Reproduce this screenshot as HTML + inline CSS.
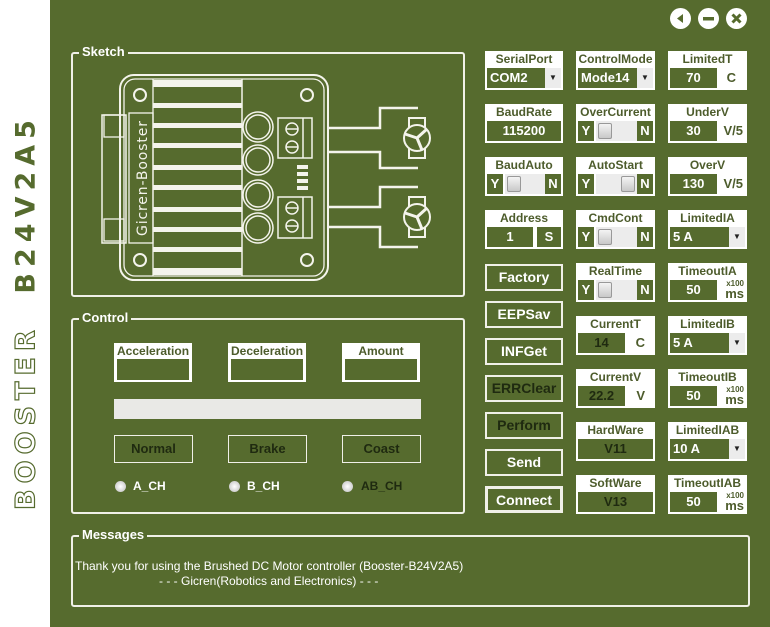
<!DOCTYPE html>
<html><head><meta charset="utf-8"><style>
*{margin:0;padding:0;box-sizing:border-box}
body{width:770px;height:627px;background:#566b2e;position:relative;overflow:hidden;font-family:"Liberation Sans",sans-serif;font-weight:bold}
.strip{position:absolute;left:0;top:0;width:50px;height:627px;background:#fff}
.gb{position:absolute;border:2px solid #f0f0e8;border-radius:3px}
.gb span{position:absolute;top:-10px;left:6px;background:#566b2e;color:#fff;font-size:13px;padding:0 3px;line-height:16px}
.w{position:absolute;background:#fff;width:79px;height:39px}
.t{position:absolute;left:0;top:1px;width:100%;text-align:center;font-size:12px;color:#4d5c2c;line-height:14px}
.f{position:absolute;top:17px;height:20px;background:#566b2e;color:#fff;font-size:13px;line-height:20px}
.c{text-align:center}
.u{position:absolute;top:17px;right:4px;height:20px;line-height:20px;font-size:13px;color:#4d5c2c}
.dd{position:absolute;top:17px;right:2px;width:16px;height:20px;background:#ececec;font-size:8px;color:#222;text-align:center;line-height:20px}
.tr{position:absolute;top:17px;left:20px;width:42px;height:20px;background:#ececec}
.kn{position:absolute;top:19px;width:14px;height:16px;background:linear-gradient(#f4f4f4,#c8c8c8);border:1px solid #999;border-radius:2px}
.x100{position:absolute;right:3px;top:16px;font-size:8px;color:#4d5c2c;line-height:9px;text-align:right}
.x100 b{font-size:13px;display:block;line-height:12px}
.btn{position:absolute;left:485px;width:78px;height:27px;border:2px solid #f0f0e8;color:#fff;font-size:14px;text-align:center;line-height:23px}
.cb{position:absolute;width:78px;height:39px;background:#fff}
.cb .f{left:3px;right:3px;top:16px;height:21px}
.cbtn{position:absolute;top:435px;width:79px;height:28px;border:1px solid #f0f0e8;color:#1f2a10;font-size:13px;text-align:center;line-height:26px}
.rad{position:absolute;top:481px;width:11px;height:11px;border-radius:50%;background:radial-gradient(#fff,#bbb)}
.rl{position:absolute;top:479px;font-size:12px;color:#fff}
.ic{position:absolute;top:8px;width:21px;height:21px;border-radius:50%;background:#fff}
</style></head><body>
<div class="strip"></div>
<div style="position:absolute;left:50px;top:0;width:720px;height:627px;background:#566b2e"></div>
<div style="position:absolute;left:26px;top:312px;transform:translate(-50%,-50%) rotate(-90deg);white-space:nowrap;font-size:27px;letter-spacing:6px;color:#566b2e;font-family:'DejaVu Sans',sans-serif;font-weight:bold"><span style="color:#fff;-webkit-text-stroke:1.2px #566b2e">BOOSTER</span>&nbsp;&nbsp;B24V2A5</div>

<div class="ic" style="left:670px"><svg width="21" height="21"><polygon points="7,10.5 13,6 13,15" fill="#566b2e"/></svg></div>
<div class="ic" style="left:698px"><svg width="21" height="21"><rect x="5" y="9" width="11" height="3.5" fill="#566b2e"/></svg></div>
<div class="ic" style="left:726px"><svg width="21" height="21"><path d="M6.5 6.5L14.5 14.5M14.5 6.5L6.5 14.5" stroke="#566b2e" stroke-width="3"/></svg></div>

<div class="gb" style="left:71px;top:52px;width:394px;height:245px"><span>Sketch</span></div>
<div class="gb" style="left:71px;top:318px;width:394px;height:196px"><span>Control</span></div>
<div class="gb" style="left:71px;top:535px;width:679px;height:72px"><span>Messages</span></div>

<svg style="position:absolute;left:0;top:0" width="470" height="300" fill="none" stroke="#f4f4ec" stroke-width="2">
<rect x="120" y="75" width="208" height="205" rx="14"/>
<rect x="124" y="79" width="200" height="197" rx="11" stroke-width="1.3"/>
<rect x="102" y="115" width="24" height="128" stroke-width="1.5"/>
<rect x="104" y="115" width="20" height="22" stroke-width="1.3"/>
<rect x="104" y="219" width="20" height="22" stroke-width="1.3"/>
<rect x="129" y="113" width="24" height="130" stroke-width="1.3"/>
<text x="147" y="236" transform="rotate(-90 147 236)" fill="#f4f4ec" stroke="none" font-family="DejaVu Sans" font-size="14" font-weight="normal" textLength="115">Gicren-Booster</text>
<g fill="#f4f4ec" stroke="none">
<rect x="153" y="80" width="89" height="7"/><rect x="153" y="103" width="89" height="5"/><rect x="153" y="123" width="89" height="5"/><rect x="153" y="143" width="89" height="5"/><rect x="153" y="165" width="89" height="5"/><rect x="153" y="185" width="89" height="5"/><rect x="153" y="207" width="89" height="5"/><rect x="153" y="227" width="89" height="5"/><rect x="153" y="247" width="89" height="5"/><rect x="153" y="268" width="89" height="7"/>
<rect x="297" y="165" width="11" height="4"/><rect x="297" y="172" width="11" height="4"/><rect x="297" y="179" width="11" height="4"/><rect x="297" y="186" width="11" height="4"/>
</g>
<line x1="153" y1="79" x2="153" y2="276" stroke-width="1.3"/>
<line x1="242" y1="79" x2="242" y2="276" stroke-width="1.5"/>
<circle cx="140" cy="95" r="6"/><circle cx="307" cy="95" r="6"/><circle cx="140" cy="260" r="6"/><circle cx="307" cy="260" r="6"/>
<g stroke-width="1.5">
<circle cx="258" cy="127" r="15"/><circle cx="258" cy="127" r="12"/>
<circle cx="258" cy="160" r="15"/><circle cx="258" cy="160" r="12"/>
<circle cx="258" cy="195" r="15"/><circle cx="258" cy="195" r="12"/>
<circle cx="258" cy="228" r="15"/><circle cx="258" cy="228" r="12"/>
<rect x="278" y="118" width="34" height="40"/><line x1="303" y1="118" x2="303" y2="158"/>
<circle cx="292" cy="129" r="6"/><line x1="286" y1="129" x2="298" y2="129"/>
<circle cx="292" cy="147" r="6"/><line x1="286" y1="147" x2="298" y2="147"/>
<rect x="278" y="197" width="34" height="41"/><line x1="303" y1="197" x2="303" y2="238"/>
<circle cx="292" cy="208" r="6"/><line x1="286" y1="208" x2="298" y2="208"/>
<circle cx="292" cy="226" r="6"/><line x1="286" y1="226" x2="298" y2="226"/>
</g>
<g stroke-width="2.5">
<path d="M328 128H380V108H418M328 152H380V168H418"/>
<path d="M328 207H380V187H418M328 227H380V247H418"/>
</g>
<g stroke-width="2">
<rect x="409" y="118" width="16" height="40"/><circle cx="417" cy="138" r="13" fill="#566b2e"/>
<path d="M417 138L405 134M417 138L427 129M417 138L422 150" stroke-width="3"/>
<rect x="409" y="197" width="16" height="40"/><circle cx="417" cy="217" r="13" fill="#566b2e"/>
<path d="M417 217L405 213M417 217L427 208M417 217L422 229" stroke-width="3"/>
</g>
</svg>

<!-- Control -->
<div class="cb" style="left:114px;top:343px"><div class="t" style="text-align:left;padding-left:3px">Acceleration</div><div class="f"></div></div>
<div class="cb" style="left:228px;top:343px"><div class="t" style="text-align:left;padding-left:3px">Deceleration</div><div class="f"></div></div>
<div class="cb" style="left:342px;top:343px"><div class="t">Amount</div><div class="f"></div></div>
<div style="position:absolute;left:114px;top:399px;width:307px;height:20px;background:#e9e9e6"></div>
<div class="cbtn" style="left:114px">Normal</div>
<div class="cbtn" style="left:228px">Brake</div>
<div class="cbtn" style="left:342px">Coast</div>
<div class="rad" style="left:115px"></div><div class="rl" style="left:133px">A_CH</div>
<div class="rad" style="left:229px"></div><div class="rl" style="left:247px">B_CH</div>
<div class="rad" style="left:342px"></div><div class="rl" style="left:361px;color:#1f2a10">AB_CH</div>

<div style="position:absolute;left:75px;top:559px;font-size:12px;color:#fff;font-weight:normal;line-height:15px">Thank you for using the Brushed DC Motor controller (Booster-B24V2A5)<br><span style="padding-left:84px">- - - Gicren(Robotics and Electronics) - - -</span></div>

<!-- Buttons -->
<div class="btn" style="top:264px">Factory</div>
<div class="btn" style="top:301px">EEPSav</div>
<div class="btn" style="top:338px">INFGet</div>
<div class="btn" style="top:375px;color:#1f2a10">ERRClear</div>
<div class="btn" style="top:412px;color:#1f2a10">Perform</div>
<div class="btn" style="top:449px">Send</div>
<div class="btn" style="top:486px;border-width:3px">Connect</div>

<!-- Column 1 -->
<div class="w" style="left:485px;top:51px;width:78px"><div class="t">SerialPort</div><div class="f" style="left:2px;width:58px;padding-left:3px">COM2</div><div class="dd">▼</div></div>
<div class="w" style="left:485px;top:104px;width:78px"><div class="t">BaudRate</div><div class="f c" style="left:2px;right:2px">115200</div></div>
<div class="w" style="left:485px;top:157px;width:78px"><div class="t">BaudAuto</div><div class="f c" style="left:2px;width:16px">Y</div><div class="tr"></div><div class="kn" style="left:22px"></div><div class="f c" style="right:2px;width:16px">N</div></div>
<div class="w" style="left:485px;top:210px;width:78px"><div class="t">Address</div><div class="f c" style="left:2px;width:46px">1</div><div class="f c" style="right:2px;width:24px">S</div></div>

<!-- Column 2 -->
<div class="w" style="left:576px;top:51px"><div class="t">ControlMode</div><div class="f" style="left:2px;width:59px;padding-left:3px">Mode14</div><div class="dd">▼</div></div>
<div class="w" style="left:576px;top:104px"><div class="t">OverCurrent</div><div class="f c" style="left:2px;width:16px">Y</div><div class="tr"></div><div class="kn" style="left:22px"></div><div class="f c" style="right:2px;width:16px">N</div></div>
<div class="w" style="left:576px;top:157px"><div class="t">AutoStart</div><div class="f c" style="left:2px;width:16px">Y</div><div class="tr"></div><div class="kn" style="left:45px"></div><div class="f c" style="right:2px;width:16px">N</div></div>
<div class="w" style="left:576px;top:210px"><div class="t">CmdCont</div><div class="f c" style="left:2px;width:16px">Y</div><div class="tr"></div><div class="kn" style="left:22px"></div><div class="f c" style="right:2px;width:16px">N</div></div>
<div class="w" style="left:576px;top:263px"><div class="t">RealTime</div><div class="f c" style="left:2px;width:16px">Y</div><div class="tr"></div><div class="kn" style="left:22px"></div><div class="f c" style="right:2px;width:16px">N</div></div>
<div class="w" style="left:576px;top:316px"><div class="t">CurrentT</div><div class="f c" style="left:2px;width:47px;color:#1f2a10">14</div><div class="u" style="right:10px">C</div></div>
<div class="w" style="left:576px;top:369px"><div class="t">CurrentV</div><div class="f c" style="left:2px;width:47px;color:#1f2a10">22.2</div><div class="u" style="right:10px">V</div></div>
<div class="w" style="left:576px;top:422px"><div class="t">HardWare</div><div class="f c" style="left:2px;right:2px;color:#1f2a10">V11</div></div>
<div class="w" style="left:576px;top:475px"><div class="t">SoftWare</div><div class="f c" style="left:2px;right:2px;color:#1f2a10">V13</div></div>

<!-- Column 3 -->
<div class="w" style="left:668px;top:51px"><div class="t">LimitedT</div><div class="f c" style="left:2px;width:47px">70</div><div class="u" style="right:11px">C</div></div>
<div class="w" style="left:668px;top:104px"><div class="t">UnderV</div><div class="f c" style="left:2px;width:47px">30</div><div class="u">V/5</div></div>
<div class="w" style="left:668px;top:157px"><div class="t">OverV</div><div class="f c" style="left:2px;width:47px">130</div><div class="u">V/5</div></div>
<div class="w" style="left:668px;top:210px"><div class="t">LimitedIA</div><div class="f" style="left:2px;width:59px;padding-left:3px">5 A</div><div class="dd">▼</div></div>
<div class="w" style="left:668px;top:263px"><div class="t">TimeoutIA</div><div class="f c" style="left:2px;width:47px">50</div><div class="x100">x100<b>ms</b></div></div>
<div class="w" style="left:668px;top:316px"><div class="t">LimitedIB</div><div class="f" style="left:2px;width:59px;padding-left:3px">5 A</div><div class="dd">▼</div></div>
<div class="w" style="left:668px;top:369px"><div class="t">TimeoutIB</div><div class="f c" style="left:2px;width:47px">50</div><div class="x100">x100<b>ms</b></div></div>
<div class="w" style="left:668px;top:422px"><div class="t">LimitedIAB</div><div class="f" style="left:2px;width:59px;padding-left:3px">10 A</div><div class="dd">▼</div></div>
<div class="w" style="left:668px;top:475px"><div class="t">TimeoutIAB</div><div class="f c" style="left:2px;width:47px">50</div><div class="x100">x100<b>ms</b></div></div>
</body></html>
